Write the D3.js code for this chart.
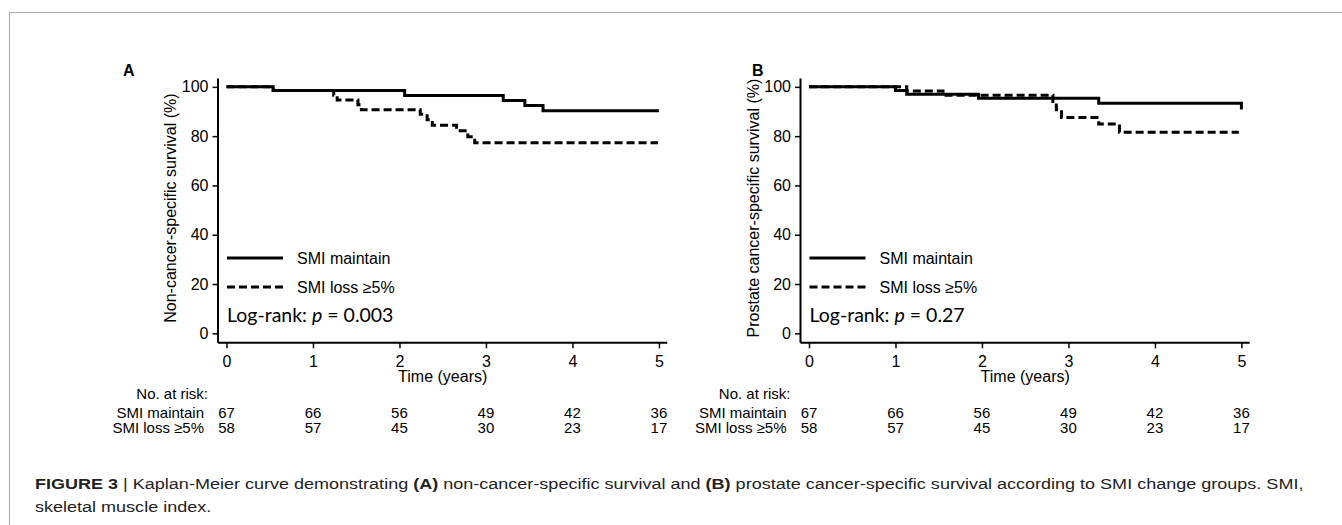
<!DOCTYPE html>
<html>
<head>
<meta charset="utf-8">
<script src="https://cdn.jsdelivr.net/npm/d3@7"></script>
<style>
  body { margin: 0; background: #fff; }
  svg { display: block; font-family: "Liberation Sans", Arial, sans-serif; }
</style>
</head>
<body>
<svg id="fig" width="1342" height="525"></svg>
<script>
// ---- data ----
const years = [0, 1, 2, 3, 4, 5];
const groups = ["SMI maintain", "SMI loss \u22655%"];

// panel A: non-cancer-specific survival
const aMaintainT = [0, 0.54, 2.06, 3.20, 3.45, 3.66, 5.0];
const aMaintainS = [100, 98.5, 96.5, 94.5, 92.4, 90.3, 90.3];
const aLossT = [0, 0.54, 1.24, 1.28, 1.52, 1.56, 2.24, 2.32, 2.38, 2.66, 2.79, 2.87, 4.99];
const aLossS = [100, 98.5, 96.6, 94.7, 92.7, 90.7, 88.9, 86.7, 84.4, 82.2, 79.8, 77.3, 77.3];

// panel B: prostate cancer-specific survival
const bMaintainT = [0, 1.0, 1.13, 1.96, 3.35, 5.0];
const bMaintainS = [100, 98.5, 97.0, 95.4, 93.4, 90.8];
const bLossT = [0, 1.13, 1.55, 2.82, 2.86, 2.92, 3.35, 3.59, 4.97];
const bLossS = [100, 98.3, 96.6, 93.4, 90.7, 87.6, 84.9, 81.6, 81.6];

// numbers at risk
const riskMaintain = [67, 66, 56, 49, 42, 36];
const riskLoss = [58, 57, 45, 30, 23, 17];

const panels = [
  { letter: "A", yLabel: "Non-cancer-specific survival (%)", p: "0.003",
    curves: [[aMaintainT, aMaintainS], [aLossT, aLossS]], dx: 0, letterX: 123 },
  { letter: "B", yLabel: "Prostate cancer-specific survival (%)", p: "0.27",
    curves: [[bMaintainT, bMaintainS], [bLossT, bLossS]], dx: 582.5, letterX: 752 }
];

const svg = d3.select("#fig");

// figure frame (top and left edges visible)
svg.append("rect")
  .attr("x", 9.5).attr("y", 12.5)
  .attr("width", 1400).attr("height", 600)
  .attr("fill", "none").attr("stroke", "#a8a8a8").attr("stroke-width", 1);

const dashes = ["none", "8,4"];

panels.forEach(pn => {
  const x = d3.scaleLinear().domain([-0.104, 5.09]).range([217.5 + pn.dx, 666.7 + pn.dx]);
  const y = d3.scaleLinear().domain([-3.65, 103.6]).range([342.3, 78]);
  const g = svg.append("g");

  // panel letter
  g.append("text").attr("x", pn.letterX).attr("y", 76)
    .attr("font-weight", "bold").attr("font-size", 16).text(pn.letter);

  // axes
  const yAxis = g.append("g").attr("transform", `translate(${x.range()[0]},0)`)
    .call(d3.axisLeft(y).tickValues([0, 20, 40, 60, 80, 100]).tickFormat(d3.format("d"))
      .tickSize(5).tickSizeOuter(0).tickPadding(4));
  const xAxis = g.append("g").attr("transform", `translate(0,${y.range()[0]})`)
    .call(d3.axisBottom(x).tickValues(years).tickFormat(d3.format("d"))
      .tickSize(6).tickSizeOuter(0).tickPadding(7));
  [yAxis, xAxis].forEach(ax => {
    ax.select(".domain").attr("stroke-width", 2);
    ax.selectAll(".tick line").attr("stroke-width", 1.5);
    ax.selectAll(".tick text").attr("font-size", 16).attr("font-family", "Liberation Sans, Arial, sans-serif").attr("fill", "#000");
  });

  // axis titles
  g.append("text")
    .attr("transform", `translate(${176 + pn.dx},${y(50) - 2}) rotate(-90)`)
    .attr("text-anchor", "middle").attr("font-size", 16).text(pn.yLabel);
  g.append("text").attr("x", x(2.5)).attr("y", 382)
    .attr("text-anchor", "middle").attr("font-size", 16).text("Time (years)");

  // KM curves: dashed group first so the solid one sits on top where they overlap
  const line = d3.line().x(d => x(d[0])).y(d => y(d[1])).curve(d3.curveStepAfter);
  [1, 0].forEach(i => {
    const c = pn.curves[i];
    const pts = c[0].map((t, k) => [t, c[1][k]]);
    g.append("path").datum(pts).attr("d", line)
      .attr("fill", "none").attr("stroke", "#000").attr("stroke-width", 3)
      .attr("stroke-dasharray", dashes[i]);
  });

  // legend
  groups.forEach((name, i) => {
    const ly = 258 + i * 29;
    g.append("line").attr("x1", 227 + pn.dx).attr("x2", 283 + pn.dx)
      .attr("y1", ly).attr("y2", ly)
      .attr("stroke", "#000").attr("stroke-width", 3).attr("stroke-dasharray", dashes[i]);
    g.append("text").attr("x", 297 + pn.dx).attr("y", ly + 6)
      .attr("font-size", 16).text(name);
  });

  // log-rank
  const lr = g.append("text").attr("x", 227 + pn.dx).attr("y", 322)
    .attr("font-family", "Lato, 'Open Sans', sans-serif").attr("font-size", 19.5);
  lr.append("tspan").text("Log-rank: ");
  lr.append("tspan").attr("font-style", "italic").text("p");
  lr.append("tspan").text(" = " + pn.p);

  // numbers at risk
  g.append("text").attr("x", 208 + pn.dx).attr("y", 399)
    .attr("text-anchor", "end").attr("font-size", 15).text("No. at risk:");
  [riskMaintain, riskLoss].forEach((row, i) => {
    const ry = 418 + i * 15;
    g.append("text").attr("x", 204 + pn.dx).attr("y", ry)
      .attr("text-anchor", "end").attr("font-size", 15).text(groups[i]);
    row.forEach((n, k) => {
      g.append("text").attr("x", x(years[k])).attr("y", ry)
        .attr("text-anchor", "middle").attr("font-size", 15).text(n);
    });
  });
});

// caption
const cap = svg.append("g").attr("fill", "#222");
const line1 = cap.append("text").attr("x", 35).attr("y", 489).attr("font-size", 15.5);
[["FIGURE 3", true], [" | Kaplan-Meier curve demonstrating ", false], ["(A)", true],
 [" non-cancer-specific survival and ", false], ["(B)", true],
 [" prostate cancer-specific survival according to SMI change groups. SMI,", false]]
  .forEach(([t, b]) => line1.append("tspan").attr("font-weight", b ? "bold" : null).text(t));
const line2 = cap.append("text").attr("x", 35).attr("y", 512).attr("font-size", 15.5)
  .text("skeletal muscle index.");
// the caption face is a condensed sans; squeeze to the measured line width
const w = line1.node().getComputedTextLength();
const sx = 1270 / w;
[line1, line2].forEach(t => t.attr("transform", `translate(35,0) scale(${sx},1) translate(-35,0)`));
</script>
</body>
</html>
